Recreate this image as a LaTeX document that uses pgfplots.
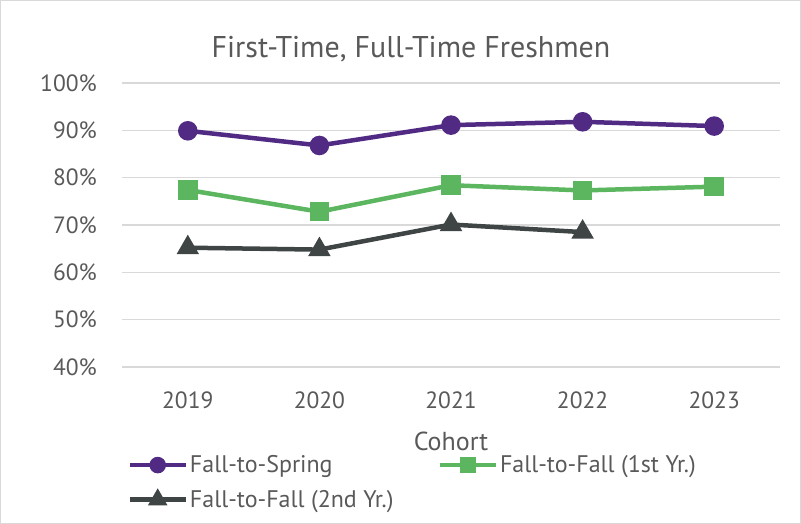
\documentclass[border=0pt]{standalone}
\usepackage{pgfplots}
\pgfplotsset{compat=1.18}
\usepackage{fontspec}
\setmainfont{PT Sans}
\definecolor{cpurple}{HTML}{512A84}
\definecolor{cgreen}{HTML}{5CB660}
\definecolor{cdark}{HTML}{3F4444}
\definecolor{ctext}{HTML}{595959}
\definecolor{cgrid}{HTML}{D9D9D9}
\begin{document}
\begin{tikzpicture}[x=1bp,y=1bp]
\draw[cgrid, line width=1bp] (0.5,0.5) rectangle (800.5,523.5);
\node[ctext, font=\fontsize{30bp}{36bp}\selectfont, anchor=base] at (411,466) {First-Time, Full-Time Freshmen};
\begin{axis}[
  at={(122bp,157bp)}, anchor=south west,
  scale only axis, width=658bp, height=284bp,
  xmin=-0.5, xmax=4.5, ymin=40, ymax=100,
  xtick={0,1,2,3,4}, xticklabels={2019,2020,2021,2022,2023},
  ytick={40,50,60,70,80,90,100},
  yticklabel={\pgfmathprintnumber{\tick}\%},
  /pgf/number format/assume math mode=true,
  axis line style={draw=none},
  major tick length=0,
  ymajorgrids, grid style={cgrid, line width=1.5bp},
  tick label style={ctext, font=\fontsize{23.5bp}{28bp}\selectfont, inner sep=0pt},
  xticklabel style={anchor=base, yshift=-42bp},
  yticklabel style={anchor=east, xshift=-25bp},
  xlabel={Cohort},
  xlabel style={ctext, font=\fontsize{26bp}{30bp}\selectfont, at={(axis description cs:0.5,0)}, anchor=center, yshift=-74bp},
  legend columns=2,
  legend cell align=left,
  legend style={draw=none, fill=none, at={(rel axis cs:0.008,-0.305)}, anchor=north west,
    font=\fontsize{24bp}{28bp}\selectfont, text=ctext, inner sep=0pt,
    row sep=12bp,
    /tikz/every even column/.append style={column sep=42bp}},
  legend image code/.code={\draw[mark repeat=2,mark phase=2,#1,mark options={scale=0.8}] plot coordinates {(0bp,0bp)(28bp,0bp)(56bp,0bp)};},
  every axis plot/.append style={line width=4.5bp},
]
\addplot[cpurple, mark=*, mark size=7.5bp] coordinates {(0,89.9)(1,86.8)(2,91.1)(3,91.8)(4,90.9)};
\addlegendentry{Fall-to-Spring}
\addplot[cgreen, mark=square*, mark size=7.5bp] coordinates {(0,77.4)(1,72.8)(2,78.4)(3,77.3)(4,78.1)};
\addlegendentry{Fall-to-Fall (1st Yr.)}
\addplot[cdark, mark=triangle*, mark size=8.5bp] coordinates {(0,65.2)(1,64.8)(2,70.1)(3,68.5)};
\addlegendentry{Fall-to-Fall (2nd Yr.)}
\end{axis}
\end{tikzpicture}
\end{document}
